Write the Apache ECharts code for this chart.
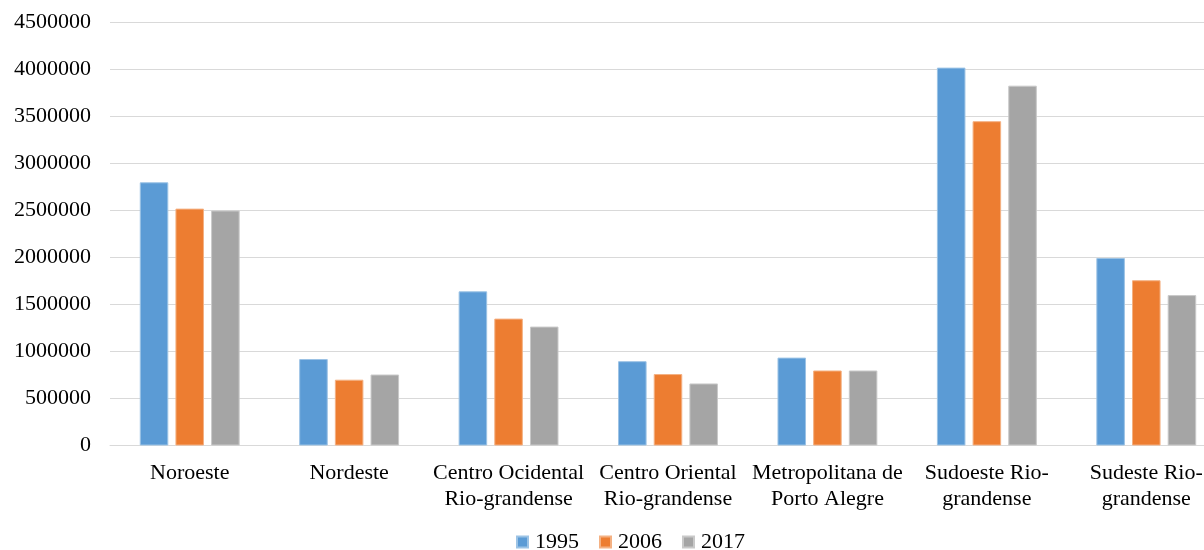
<!DOCTYPE html>
<html>
<head>
<meta charset="utf-8">
<script src="https://cdn.jsdelivr.net/npm/echarts@6/dist/echarts.min.js"></script>
<style>
  html, body { margin: 0; padding: 0; background: #ffffff; overflow: hidden; }
  #chart { width: 1240px; height: 550px; }
</style>
</head>
<body>
<div id="chart"></div>
<script>
// Mesorregiões do Rio Grande do Sul
const categories = [
  'Noroeste',
  'Nordeste',
  'Centro Ocidental\nRio-grandense',
  'Centro Oriental\nRio-grandense',
  'Metropolitana de\nPorto Alegre',
  'Sudoeste Rio-\ngrandense',
  'Sudeste Rio-\ngrandense'
];
const years = ['1995', '2006', '2017'];
const values1995 = [2800000, 920000, 1640000, 897000, 935000, 4020000, 1995000];
const values2006 = [2520000, 700000, 1350000, 760000, 798000, 3450000, 1758000];
const values2017 = [2500000, 755000, 1265000, 660000, 798000, 3828000, 1600000];
const yTicks = { min: 0, max: 4500000, interval: 500000 };

const colors = ['#5B9BD5', '#ED7D31', '#A5A5A5'];
const borders = ['#9CC3E5', '#F4B183', '#C9C9C9'];
const font = '"Liberation Serif", "Times New Roman", serif';

const chart = echarts.init(document.getElementById('chart'));
const seriesData = [values1995, values2006, values2017];

chart.setOption({
  animation: false,
  textStyle: { fontFamily: font },
  grid: { left: 110, top: 22.5, width: 1116, height: 423 },
  legend: {
    left: 516,
    top: 531,
    padding: 0,
    itemWidth: 11,
    itemHeight: 11,
    itemGap: 20,
    icon: 'rect',
    textStyle: { fontFamily: font, fontSize: 22, color: '#000000', padding: [0, 0, 0, 2] },
    data: years
  },
  xAxis: {
    type: 'category',
    data: categories,
    axisLine: { lineStyle: { color: '#D9D9D9', width: 1 } },
    axisTick: { show: false },
    axisLabel: {
      interval: 0,
      margin: 15,
      fontFamily: font,
      fontSize: 22,
      lineHeight: 26,
      color: '#000000'
    }
  },
  yAxis: {
    type: 'value',
    min: yTicks.min,
    max: yTicks.max,
    interval: yTicks.interval,
    axisLine: { show: false },
    axisTick: { show: false },
    splitLine: { lineStyle: { color: '#D9D9D9', width: 1 } },
    axisLabel: {
      margin: 19,
      fontFamily: font,
      fontSize: 22,
      color: '#000000',
      formatter: (v) => String(v)
    }
  },
  series: years.map((y, i) => ({
    name: y,
    type: 'bar',
    data: seriesData[i],
    barWidth: '17.9%',
    barGap: '25%',
    itemStyle: { color: colors[i], borderColor: borders[i], borderWidth: 1 }
  }))
});
</script>
</body>
</html>
